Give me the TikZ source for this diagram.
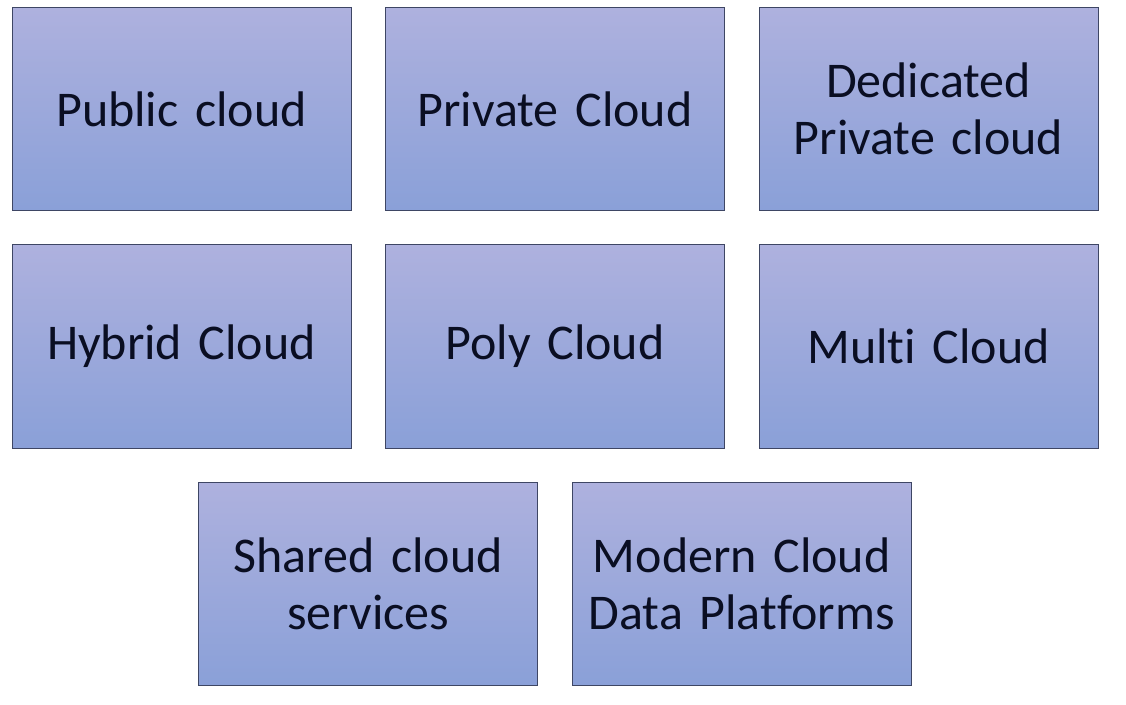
\documentclass[tikz,border=0pt]{standalone}
\usepackage{xcolor}
\usepackage{fontspec}
\setmainfont{Carlito}[Ligatures=NoCommon]
\usepackage{tikz}
\usetikzlibrary{positioning}
\usetikzlibrary{calc}

\definecolor{boxtop}{RGB}{174,177,222}
\definecolor{boxbot}{RGB}{138,160,216}
\definecolor{boxline}{RGB}{62,70,100}
\definecolor{boxtext}{RGB}{10,14,34}

\begin{document}
\begin{tikzpicture}
			\tikzstyle{cloud} = [draw=boxline, line width=0.9pt, top color=boxtop, bottom color=boxbot, minimum width=339pt, minimum height=203.5pt, text width=330pt, align=center, text=boxtext, font=\fontsize{50}{57}\selectfont, inner sep=0pt, outer sep=0pt]
			
			\useasboundingbox (0,0) rectangle (1126pt,-704pt);
			
			\node [cloud] (public) at (181.5pt,-109pt) {Public cloud};
			\node [cloud, right=34.5pt of public] (private) {Private Cloud};
			\node [cloud, right=34.5pt of private] (dedicated) {Dedicated\\Private cloud};
			\node [cloud, below=34pt of public] (hybrid) {Hybrid Cloud};
			\node [cloud, right=34.5pt of hybrid] (poly) {Poly Cloud};
			\node [cloud, right=34.5pt of poly] (multi) {Multi Cloud};
			
			\coordinate (mid) at ($(hybrid.south)!.5!(poly.south)$);
			\node [cloud, below=34pt of mid] (shared) {Shared cloud\\services};
			\node [cloud, right=34.5pt of shared] (modern) {Modern Cloud\\Data Platforms};
\end{tikzpicture}
\end{document}
